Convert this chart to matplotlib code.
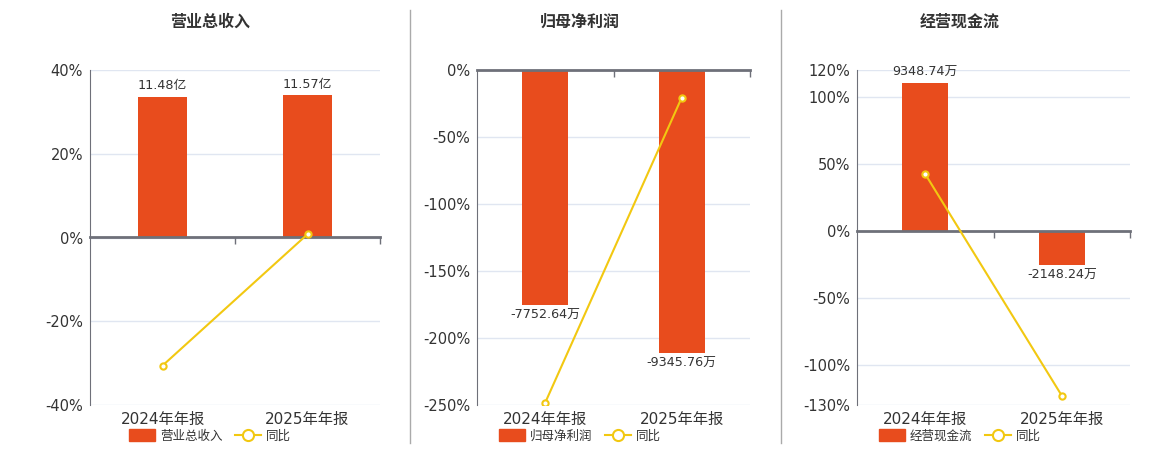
import numpy as np
import matplotlib
matplotlib.use('Agg')
import matplotlib.pyplot as plt
from matplotlib.lines import Line2D
from matplotlib.patches import Patch

plt.rcParams['font.family'] = ['DejaVu Sans', 'Noto Sans CJK SC']

cats = ['2024年年报', '2025年年报']
titles = ['营业总收入', '归母净利润', '经营现金流']

rev = [11.48, 11.57]
rev_lbl = ['11.48亿', '11.57亿']
rev_yoy = [-30.6, 0.78]

np_vals = [-7752.64, -9345.76]
np_lbl = ['-7752.64万', '-9345.76万']
np_yoy = [-248.2, -20.55]

cf_vals = [9348.74, -2148.24]
cf_lbl = ['9348.74万', '-2148.24万']
cf_yoy = [42.3, -122.98]

yticks = [[-40, -20, 0, 20, 40],
          [-250, -200, -150, -100, -50, 0],
          [-130, -100, -50, 0, 50, 100, 120]]
bar_lims = [(-13.64, 13.64), (-11060, 0), (-11004, 10157)]

BAR = '#E84C1D'
LINE = '#F2C811'
AX = '#6E7079'
GRID = '#E0E6F1'
TXT = '#333333'

fig = plt.figure(figsize=(11.6, 4.5), dpi=100)
W, H = 1160, 450
lefts = [90, 477, 857]
widths = [290, 273, 273]
centers = [210, 580, 960]

panels = [(rev, rev_lbl, rev_yoy), (np_vals, np_lbl, np_yoy), (cf_vals, cf_lbl, cf_yoy)]
x = np.arange(len(cats))

for i, (vals, lbls, yoy) in enumerate(panels):
    rect = [lefts[i] / W, 1 - 405 / H, widths[i] / W, 335 / H]

    # base axes: ticks, labels, grid
    ax = fig.add_axes(rect)
    yt = yticks[i]
    ax.set_xlim(-0.5, 1.5)
    ax.set_ylim(min(yt), max(yt))
    ax.set_yticks(yt)
    ax.set_yticklabels([f'{t}%' for t in yt])
    ax.set_xticks(x)
    ax.set_xticklabels(cats)
    ax.tick_params(axis='x', length=0, pad=5, labelsize=11, labelcolor=TXT)
    ax.tick_params(axis='y', length=0, pad=5, labelsize=10.5, labelcolor=TXT)
    ax.grid(axis='y', color=GRID, lw=1)
    for s in ['top', 'right', 'bottom']:
        ax.spines[s].set_visible(False)
    ax.spines['left'].set_color(AX)

    # bars on hidden scale
    axb = fig.add_axes(rect, sharex=ax)
    axb.patch.set_visible(False)
    bars = axb.bar(x, vals, width=0.34, color=BAR)
    axb.set_ylim(*bar_lims[i])
    axb.axis('off')
    for b, v, t in zip(bars, vals, lbls):
        off = 3 if v > 0 else -3
        axb.annotate(t, (b.get_x() + b.get_width() / 2, v), xytext=(0, off),
                     textcoords='offset points', ha='center',
                     va='bottom' if v > 0 else 'top', fontsize=9.2, color=TXT)

    # yoy line on top
    axl = fig.add_axes(rect, sharex=ax, sharey=ax)
    axl.patch.set_visible(False)
    for s in axl.spines.values():
        s.set_visible(False)
    axl.tick_params(left=False, bottom=False, labelleft=False, labelbottom=False)
    axl.plot(x, yoy, color=LINE, lw=1.5, marker='o', ms=4.5,
             mfc='white', mec=LINE, mew=1.5, zorder=5)

    # zero line with boundary ticks
    ymin, ymax = ax.get_ylim()
    loc = (0 - ymin) / (ymax - ymin)
    sec = axl.secondary_xaxis(loc)
    sec.set_xticks([0.5, 1.5])
    sec.set_xticklabels(['', ''])
    sec.tick_params(length=5, color=AX, width=1, direction='in')
    for s in sec.spines.values():
        s.set_color(AX)
        s.set_linewidth(2)

    fig.text(centers[i] / W, 1 - 22 / H, titles[i], ha='center', va='center',
             fontsize=11.5, fontweight='bold', color=TXT)

    handles = [Patch(facecolor=BAR, edgecolor=BAR),
               Line2D([], [], color=LINE, lw=1.5, marker='o', ms=8, mfc='white',
                      mec=LINE, mew=1.5)]
    fig.legend(handles, [titles[i], '同比'], loc='center',
               bbox_to_anchor=(centers[i] / W, 1 - 436 / H), ncol=2, frameon=False,
               fontsize=9, handlelength=2.1, handleheight=1.1, columnspacing=1.0,
               handletextpad=0.4, labelcolor=TXT)

for xs in [410, 781]:
    fig.add_artist(Line2D([xs / W, xs / W], [1 - 443 / H, 1 - 10 / H],
                          color='#AAAAAA', lw=1))

fig.savefig('out.png', dpi=100)
